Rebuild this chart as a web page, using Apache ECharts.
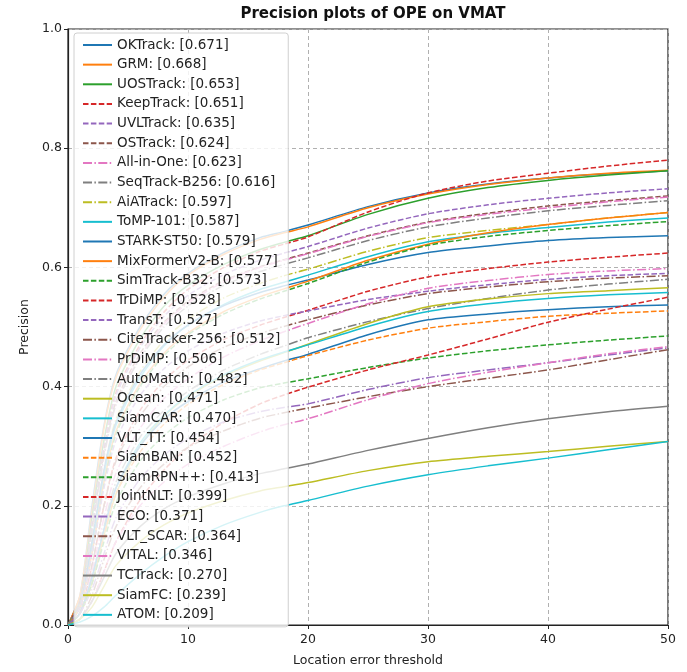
<!DOCTYPE html>
<html>
<head>
<meta charset="utf-8">
<script src="https://cdn.jsdelivr.net/npm/echarts@6/dist/echarts.min.js"></script>
<style>
html,body{margin:0;padding:0;background:#fff;}
#chart{width:687px;height:672px;}
</style>
</head>
<body>
<div id="chart"></div>
<script>
const thresholds = [0,1,2,3,4,6,8,10,13,16,18,20,25,30,35,40,45,50];
const trackerNames = ['OKTrack','GRM','UOSTrack','KeepTrack','UVLTrack','OSTrack','All-in-One','SeqTrack-B256','AiATrack','ToMP-101','STARK-ST50','MixFormerV2-B','SimTrack-B32','TrDiMP','TransT','CiteTracker-256','PrDiMP','AutoMatch','Ocean','SiamCAR','VLT_TT','SiamBAN','SiamRPN++','JointNLT','ECO','VLT_SCAR','VITAL','TCTrack','SiamFC','ATOM'];
const scores = ['0.671','0.668','0.653','0.651','0.635','0.624','0.623','0.616','0.597','0.587','0.579','0.577','0.573','0.528','0.527','0.512','0.506','0.482','0.471','0.470','0.454','0.452','0.413','0.399','0.371','0.364','0.346','0.270','0.239','0.209'];
const OKTrack = [0,0.05,0.20,0.335,0.42,0.50,0.555,0.59,0.625,0.650,0.660,0.671,0.702,0.725,0.740,0.750,0.757,0.762];
const GRM = [0,0.05,0.19,0.33,0.415,0.495,0.55,0.587,0.622,0.647,0.658,0.668,0.700,0.723,0.739,0.750,0.758,0.763];
const UOSTrack = [0,0.04,0.18,0.31,0.40,0.48,0.535,0.57,0.605,0.630,0.642,0.653,0.689,0.716,0.734,0.746,0.755,0.762];
const KeepTrack = [0,0.04,0.17,0.30,0.39,0.47,0.525,0.563,0.600,0.627,0.639,0.651,0.693,0.725,0.745,0.758,0.770,0.780];
const UVLTrack = [0,0.04,0.17,0.30,0.385,0.465,0.518,0.553,0.588,0.612,0.624,0.635,0.666,0.690,0.705,0.716,0.725,0.732];
const OSTrack = [0,0.04,0.16,0.29,0.375,0.455,0.508,0.543,0.578,0.601,0.613,0.624,0.653,0.676,0.691,0.703,0.712,0.720];
const AllInOne = [0,0.03,0.15,0.28,0.37,0.45,0.505,0.54,0.576,0.600,0.612,0.623,0.652,0.675,0.689,0.700,0.710,0.718];
const SeqTrack = [0,0.04,0.16,0.285,0.37,0.447,0.50,0.535,0.570,0.593,0.605,0.616,0.645,0.668,0.683,0.695,0.704,0.712];
const AiATrack = [0,0.03,0.14,0.26,0.345,0.425,0.478,0.513,0.549,0.573,0.586,0.597,0.627,0.650,0.662,0.672,0.683,0.692];
const ToMP = [0,0.03,0.13,0.25,0.335,0.415,0.468,0.503,0.538,0.563,0.575,0.587,0.618,0.643,0.657,0.667,0.676,0.683];
const STARK = [0,0.03,0.14,0.26,0.34,0.42,0.47,0.503,0.536,0.558,0.569,0.579,0.605,0.625,0.636,0.645,0.650,0.653];
const MixFormer = [0,0.03,0.12,0.24,0.325,0.405,0.456,0.49,0.526,0.551,0.564,0.577,0.612,0.639,0.658,0.672,0.683,0.692];
const SimTrack = [0,0.03,0.12,0.235,0.32,0.40,0.452,0.487,0.522,0.547,0.560,0.573,0.609,0.637,0.652,0.662,0.670,0.677];
const TrDiMP = [0,0.02,0.10,0.20,0.28,0.36,0.41,0.444,0.479,0.503,0.516,0.528,0.560,0.584,0.598,0.609,0.617,0.624];
const TransT = [0,0.03,0.12,0.23,0.31,0.385,0.43,0.46,0.49,0.51,0.519,0.527,0.546,0.560,0.571,0.580,0.586,0.590];
const CiteTracker = [0,0.02,0.10,0.20,0.275,0.35,0.40,0.433,0.466,0.489,0.501,0.512,0.537,0.556,0.567,0.576,0.582,0.586];
const PrDiMP = [0,0.02,0.09,0.18,0.255,0.33,0.38,0.413,0.450,0.477,0.492,0.506,0.539,0.565,0.578,0.588,0.594,0.598];
const AutoMatch = [0,0.02,0.08,0.165,0.24,0.315,0.36,0.392,0.428,0.454,0.468,0.482,0.509,0.531,0.548,0.562,0.572,0.580];
const Ocean = [0,0.02,0.07,0.15,0.22,0.30,0.35,0.383,0.418,0.443,0.457,0.471,0.506,0.534,0.547,0.556,0.561,0.566];
const SiamCAR = [0,0.02,0.08,0.16,0.23,0.305,0.352,0.385,0.42,0.445,0.458,0.470,0.501,0.526,0.539,0.548,0.554,0.558];
const VLT_TT = [0,0.02,0.08,0.16,0.23,0.30,0.345,0.375,0.408,0.430,0.443,0.454,0.487,0.512,0.522,0.529,0.534,0.537];
const SiamBAN = [0,0.02,0.07,0.15,0.22,0.29,0.337,0.37,0.404,0.428,0.440,0.452,0.478,0.498,0.509,0.518,0.523,0.527];
const SiamRPNpp = [0,0.02,0.07,0.14,0.205,0.275,0.318,0.348,0.378,0.398,0.406,0.413,0.432,0.448,0.460,0.470,0.478,0.485];
const JointNLT = [0,0.01,0.04,0.09,0.14,0.21,0.26,0.298,0.34,0.371,0.386,0.399,0.428,0.453,0.480,0.508,0.530,0.550];
const ECO = [0,0.02,0.06,0.12,0.18,0.245,0.285,0.313,0.341,0.358,0.365,0.371,0.395,0.415,0.428,0.440,0.453,0.465];
const VLT_SCAR = [0,0.01,0.05,0.11,0.165,0.23,0.27,0.298,0.326,0.347,0.356,0.364,0.383,0.400,0.414,0.428,0.445,0.462];
const VITAL = [0,0.01,0.04,0.09,0.14,0.20,0.24,0.27,0.30,0.324,0.336,0.346,0.378,0.405,0.424,0.440,0.455,0.467];
const TCTrack = [0,0.01,0.04,0.08,0.12,0.165,0.195,0.215,0.237,0.254,0.262,0.270,0.293,0.313,0.331,0.346,0.358,0.367];
const SiamFC = [0,0.01,0.03,0.065,0.10,0.14,0.168,0.188,0.209,0.225,0.232,0.239,0.259,0.274,0.283,0.291,0.300,0.308];
const ATOM = [0,0.005,0.015,0.03,0.05,0.085,0.115,0.14,0.168,0.189,0.200,0.209,0.233,0.252,0.267,0.280,0.294,0.308];
const seriesValues = [OKTrack,GRM,UOSTrack,KeepTrack,UVLTrack,OSTrack,AllInOne,SeqTrack,AiATrack,ToMP,STARK,MixFormer,SimTrack,TrDiMP,TransT,CiteTracker,PrDiMP,AutoMatch,Ocean,SiamCAR,VLT_TT,SiamBAN,SiamRPNpp,JointNLT,ECO,VLT_SCAR,VITAL,TCTrack,SiamFC,ATOM];
const xTicks = [0,10,20,30,40,50];
const yTicks = [0,0.2,0.4,0.6,0.8,1.0];

const palette = ['#1f77b4','#ff7f0e','#2ca02c','#d62728','#9467bd','#8c564b','#e377c2','#7f7f7f','#bcbd22','#17becf'];
const styleCycle = ['solid','solid','solid',[5.5,2.4],[5.5,2.4],[5.5,2.4],[9,2.4,1.5,2.4],[9,2.4,1.5,2.4],[9,2.4,1.5,2.4]];

const series = trackerNames.map((n, i) => ({
  name: n + ': [' + scores[i] + ']',
  type: 'line',
  data: thresholds.map((t, k) => [t, seriesValues[i][k]]),
  showSymbol: false,
  symbol: 'none',
  smooth: 0.25,
  silent: true,
  z: 2,
  lineStyle: { color: palette[i % 10], width: 1.5, type: styleCycle[i % 9] },
  itemStyle: { color: palette[i % 10] }
}));

const chart = echarts.init(document.getElementById('chart'), null, {renderer: 'canvas'});
chart.setOption({
  animation: false,
  backgroundColor: '#fff',
  title: {
    text: 'Precision plots of OPE on VMAT',
    left: 368, top: 2, textAlign: 'center',
    textStyle: { fontFamily: 'DejaVu Sans', fontSize: 15, fontWeight: 'bold', color: '#111' }
  },
  grid: { left: 68, right: 19, top: 29, bottom: 40, show: true, borderColor: '#222', borderWidth: 1.2, backgroundColor: 'transparent' },
  legend: {
    orient: 'vertical', left: 74, top: 33,
    padding: [5, 8, 5, 8],
    itemWidth: 29, itemHeight: 13, itemGap: 5.65,
    backgroundColor: 'rgba(255,255,255,0.82)',
    borderColor: '#d0d0d0', borderWidth: 1, borderRadius: 3,
    itemStyle: { opacity: 0 },
    textStyle: { fontFamily: 'DejaVu Sans', fontSize: 13.5, color: '#222' },
    data: series.map(s => s.name),
    selectedMode: false
  },
  xAxis: {
    type: 'value', min: 0, max: 50, interval: 10,
    name: 'Location error threshold', nameLocation: 'middle', nameGap: 29,
    nameTextStyle: { fontFamily: 'DejaVu Sans', fontSize: 12.5, color: '#222' },
    axisLine: { show: true, lineStyle: { color: '#222', width: 1.2 } },
    axisTick: { show: true, length: 4, lineStyle: { color: '#222' } },
    axisLabel: { fontFamily: 'DejaVu Sans', fontSize: 12.5, color: '#222', margin: 8 },
    splitLine: { show: true, lineStyle: { color: '#b0b0b0', type: [4, 3], width: 1 } }
  },
  yAxis: {
    type: 'value', min: 0, max: 1, interval: 0.2,
    name: 'Precision', nameLocation: 'middle', nameGap: 28, nameRotate: 90,
    nameTextStyle: { fontFamily: 'DejaVu Sans', fontSize: 12.5, color: '#222' },
    axisLine: { show: true, lineStyle: { color: '#222', width: 1.2 } },
    axisTick: { show: true, length: 4, lineStyle: { color: '#222' } },
    axisLabel: { fontFamily: 'DejaVu Sans', fontSize: 12.5, color: '#222', margin: 6,
      formatter: v => v.toFixed(1) },
    splitLine: { show: true, lineStyle: { color: '#b0b0b0', type: [4, 3], width: 1 } }
  },
  series: series
});
</script>
</body>
</html>
